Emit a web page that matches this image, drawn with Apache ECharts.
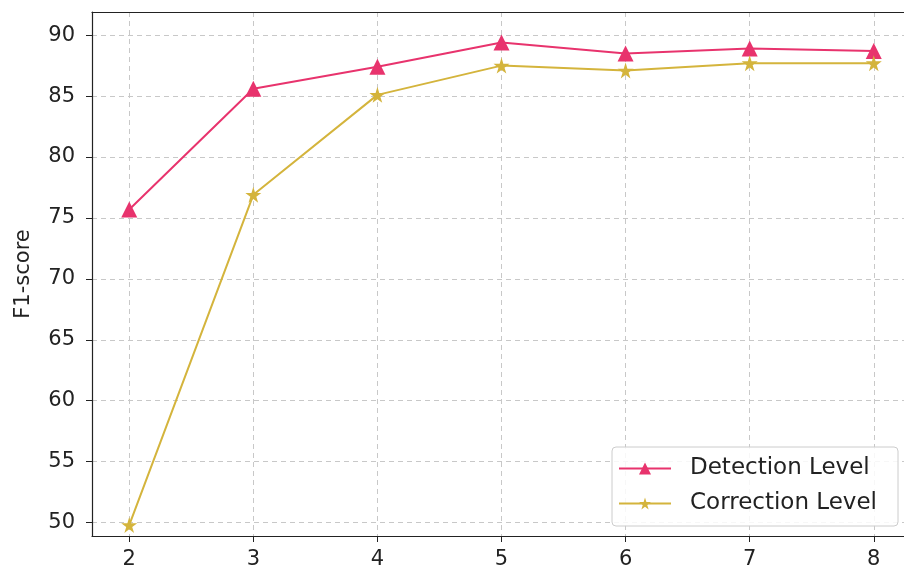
<!DOCTYPE html>
<html><head><meta charset="utf-8">
<script src="https://cdn.jsdelivr.net/npm/echarts@6/dist/echarts.min.js"></script>
<style>html,body{margin:0;padding:0;background:#fff;overflow:hidden;width:904px;height:571px}#c{width:1000px;height:571px}</style>
</head><body><div id="c"></div>
<script>
const xValues = [2, 3, 4, 5, 6, 7, 8];
const detection = [75.7, 85.6, 87.4, 89.4, 88.5, 88.9, 88.7];
const correction = [49.8, 76.9, 85.1, 87.5, 87.1, 87.7, 87.7];
const seriesNames = ['Detection Level', 'Correction Level'];
const yTicks = [50, 55, 60, 65, 70, 75, 80, 85, 90];

const star = 'path://M50,0 L61,35 L98,35 L68,57 L79,91 L50,70 L21,91 L32,57 L2,35 L39,35 Z';
const font = 'DejaVu Sans';
const chart = echarts.init(document.getElementById('c'), null, {renderer: 'canvas'});
chart.setOption({
  animation: false,
  textStyle: {fontFamily: font},
  grid: {left: 92, top: 12, right: 89, bottom: 35, show: false},
  legend: {
    left: 612, top: 447, orient: 'vertical', itemGap: 12,
    itemWidth: 52, itemHeight: 15,
    padding: [10, 21, 11, 6],
    borderColor: '#cccccc', borderWidth: 1, borderRadius: 4, backgroundColor: 'rgba(255,255,255,0.85)',
    textStyle: {fontSize: 23, color: '#222', fontFamily: font, padding: [0, 0, 0, 14]},
    data: seriesNames
  },
  xAxis: [{
    type: 'value', min: 1.7, max: 8.3, interval: 1,
    axisLine: {show: true, lineStyle: {color: '#222', width: 1.2}},
    axisTick: {show: true, length: 6, lineStyle: {color: '#222'}, customValues: xValues},
    axisLabel: {fontSize: 21, color: '#222', margin: 13, customValues: xValues, fontFamily: font},
    splitLine: {show: true, lineStyle: {color: '#c8c8c8', type: [5, 4], width: 1}},
  }, {
    type: 'value', position: 'top', min: 1.7, max: 8.3, interval: 1,
    axisLine: {show: true, onZero: false, lineStyle: {color: '#222', width: 1.2}},
    axisTick: {show: false}, axisLabel: {show: false}, splitLine: {show: false}
  }],
  yAxis: {
    type: 'value', min: 48.9, max: 91.9,
    name: 'F1-score', nameLocation: 'middle', nameGap: 58, nameRotate: 90,
    nameTextStyle: {fontSize: 21, color: '#222', fontFamily: font},
    axisLine: {show: true, onZero: false, lineStyle: {color: '#222', width: 1.2}},
    axisTick: {show: true, length: 6, lineStyle: {color: '#222'}, customValues: yTicks},
    axisLabel: {fontSize: 21, color: '#222', margin: 17, customValues: yTicks, fontFamily: font},
    splitLine: {show: true, lineStyle: {color: '#c8c8c8', type: [5, 4], width: 1}},
    splitNumber: 8
  },
  series: [
    {name: seriesNames[0], type: 'line', data: xValues.map((x, i) => [x, detection[i]]),
     symbol: 'triangle', symbolSize: 16, lineStyle: {color: '#e8336d', width: 2},
     itemStyle: {color: '#e8336d'}},
    {name: seriesNames[1], type: 'line', data: xValues.map((x, i) => [x, correction[i]]),
     symbol: star, symbolSize: 16, lineStyle: {color: '#d4b43c', width: 2},
     itemStyle: {color: '#d4b43c'}}
  ]
});
</script></body></html>
